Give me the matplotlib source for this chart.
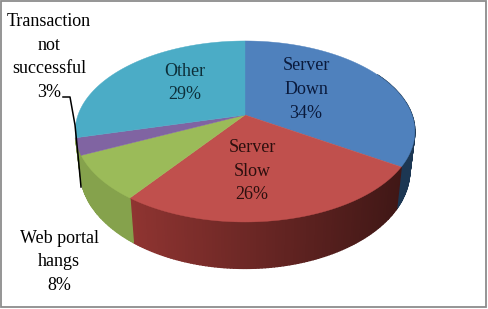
import numpy as np
import matplotlib
matplotlib.use('Agg')
import matplotlib.pyplot as plt
from matplotlib.patches import Polygon, Rectangle

labels = ['Server\nDown\n34%', 'Server\nSlow\n26%', 'Web portal\nhangs\n8%',
          'Transaction\nnot\nsuccessful\n3%', 'Other\n29%']
values = [34, 26, 8, 3, 29]
top_colors = ['#4f81bd', '#c0504d', '#9bbb59', '#8064a2', '#4bacc6']
# the purple wall only peeks out next to the green one, so it is painted green
side_colors = ['#3f7ab8', '#8f3431', '#85a24c', '#85a24c', '#357f93']

# pie geometry in pixels, k is the perspective of the tilted disc
cx, cy = 245, 115
rx, ry = 167, 87.5
k = 0.182
depth = 38
bottom_scale = 0.97


def project(theta):
    u = np.sin(theta)
    v = -np.cos(theta)
    s = 1 / (1 - k * v)
    return cx + rx * u * s, cy + ry * v * s, depth * s


def side_shade(color, x):
    # walls get darker towards the right hand side
    t = np.clip((x - 130) / 270, 0, 1)
    rgb = np.array(matplotlib.colors.to_rgb(color))
    return rgb * (1 - 0.55 * t)


fig = plt.figure(figsize=(4.88, 3.09), dpi=100)
ax = fig.add_axes([0, 0, 1, 1])
ax.set_xlim(0, 488)
ax.set_ylim(309, 0)
ax.axis('off')

edges = np.cumsum([0] + values) / sum(values) * 2 * np.pi

# walls first, the top face covers whatever is not visible
for i in range(len(values) - 1):
    angles = np.linspace(edges[i], edges[i + 1], max(values[i] * 4, 8))
    for a0, a1 in zip(angles[:-1], angles[1:]):
        if (a0 + a1) / 2 < np.radians(60):
            continue
        x0, y0, d0 = project(a0)
        x1, y1, d1 = project(a1)
        bx0 = cx + (x0 - cx) * bottom_scale
        bx1 = cx + (x1 - cx) * bottom_scale
        shade = side_shade(side_colors[i], (x0 + x1) / 2)
        ax.add_patch(Polygon([[x0, y0], [x1, y1], [bx1, y1 + d1], [bx0, y0 + d0]],
                             facecolor=shade, edgecolor=shade, linewidth=1.0, zorder=1))

# top face
for i in range(len(values)):
    angles = np.linspace(edges[i], edges[i + 1], 120)
    x, y, _ = project(angles)
    pts = np.column_stack([np.r_[cx, x], np.r_[cy, y]])
    ax.add_patch(Polygon(pts, facecolor=top_colors[i], edgecolor=top_colors[i],
                         linewidth=0.3, zorder=2))

# leader line for the small slice
ax.plot([63, 70, 75, 78, 81], [97, 97, 125, 155, 187], color='black', lw=1.1, zorder=3)

font = dict(family='Liberation Serif', fontsize=13, ha='center', va='center',
            linespacing=1.52, zorder=4)
ax.text(306, 89.5, labels[0], color='#0a1a3c', **font)
ax.text(252, 171, labels[1], color='#2c0f0e', **font)
ax.text(59, 262, labels[2], color='black', **font)
ax.text(49, 57, labels[3], color='black', **font)
ax.text(185, 83, labels[4], color='#0d2f3a', **font)

ax.add_patch(Rectangle((1, 1), 485, 306, fill=False, edgecolor='#8c8c8c', linewidth=1.3, zorder=5))

fig.savefig('out.png', dpi=100)
